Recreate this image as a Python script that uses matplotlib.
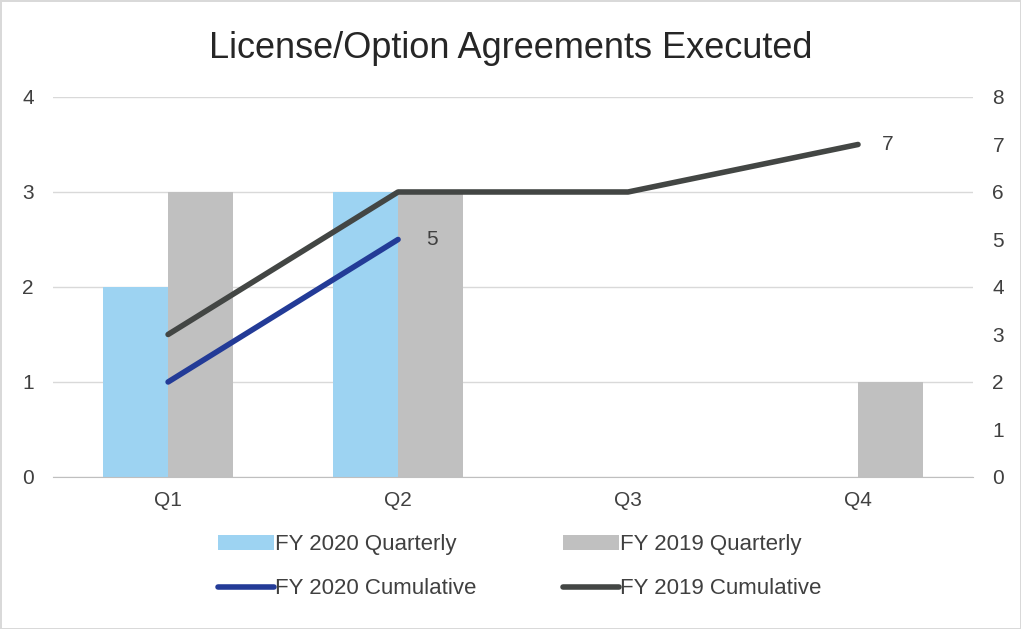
import matplotlib.pyplot as plt
import numpy as np

plt.rcParams['font.family'] = ['Liberation Sans', 'DejaVu Sans']

# dados
quarters = ['Q1', 'Q2', 'Q3', 'Q4']
fy2020_quarterly = [2, 3, 0, 0]
fy2019_quarterly = [3, 3, 0, 1]
fy2020_cumulative = [2, 5]
fy2019_cumulative = [3, 6, 6, 7]

c_blue_light = '#9dd3f2'
c_gray_light = '#c0c0c0'
c_navy = '#233b97'
c_dark = '#434644'
txt = '#404040'

fig = plt.figure(figsize=(10.21, 6.29), dpi=100)
fig.patch.set_edgecolor('#d9d9d9')
fig.patch.set_linewidth(2)

ax = fig.add_axes([0.052, 0.2417, 0.901, 0.6041])
ax2 = ax.twinx()

x = np.arange(len(quarters))
w = 0.283

ax.bar(x - w / 2, fy2020_quarterly, w, color=c_blue_light, label='FY 2020 Quarterly', zorder=2)
ax.bar(x + w / 2, fy2019_quarterly, w, color=c_gray_light, label='FY 2019 Quarterly', zorder=2)

ax2.plot(x[:len(fy2020_cumulative)], fy2020_cumulative, color=c_navy, lw=4,
         solid_capstyle='round', label='FY 2020 Cumulative', zorder=3)
ax2.plot(x, fy2019_cumulative, color=c_dark, lw=4,
         solid_capstyle='round', label='FY 2019 Cumulative', zorder=3)

# rótulos dos últimos pontos
ax2.annotate(str(fy2020_cumulative[-1]), (x[len(fy2020_cumulative) - 1], fy2020_cumulative[-1]),
             xytext=(20, 0), textcoords='offset points', va='center', ha='left',
             fontsize=15, color=txt)
ax2.annotate(str(fy2019_cumulative[-1]), (x[-1], fy2019_cumulative[-1]),
             xytext=(17, 0), textcoords='offset points', va='center', ha='left',
             fontsize=15, color=txt)

ax.set_xlim(-0.5, len(quarters) - 0.5)
ax.set_ylim(0, 4)
ax2.set_ylim(0, 8)
ax.set_yticks(range(0, 5))
ax2.set_yticks(range(0, 9))
ax.set_xticks(x)
ax.set_xticklabels(quarters)

ax.grid(axis='y', color='#d9d9d9', lw=1, zorder=0)
ax.set_axisbelow(True)
for a in (ax, ax2):
    for s in a.spines.values():
        s.set_visible(False)
    a.tick_params(length=0, labelsize=15, colors=txt)
ax.spines['bottom'].set_visible(True)
ax.spines['bottom'].set_color('#bfbfbf')
ax.tick_params(axis='y', pad=14)
ax2.tick_params(axis='y', pad=14)
ax.tick_params(axis='x', pad=10)

fig.suptitle('License/Option Agreements Executed', fontsize=26, color='#262626', y=0.95)

h1, l1 = ax.get_legend_handles_labels()
h2, l2 = ax2.get_legend_handles_labels()
handles = [h1[0], h2[0], h1[1], h2[1]]
labels = [l1[0], l2[0], l1[1], l2[1]]
fig.legend(handles, labels, ncol=2, loc='center', bbox_to_anchor=(0.509, 0.099),
           frameon=False, fontsize=16, labelcolor=txt, handlelength=2.5,
           handletextpad=0.05, columnspacing=3.9, labelspacing=1.05)

fig.savefig('out.png', dpi=100)
